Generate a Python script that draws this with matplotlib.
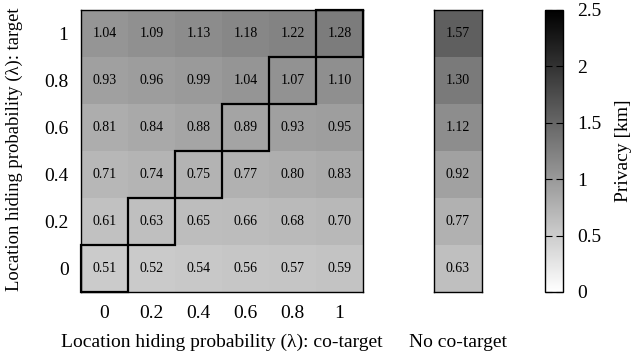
import numpy as np
import matplotlib.pyplot as plt
from matplotlib.patches import Rectangle

plt.rcParams['font.family'] = ['Liberation Serif', 'DejaVu Serif']

# hiding probability of the co-target (columns) and the target (rows)
co_target = ['0', '0.2', '0.4', '0.6', '0.8', '1']
target = ['0', '0.2', '0.4', '0.6', '0.8', '1']

# privacy [km], one row per target probability, bottom row first
privacy = np.array([
    [0.51, 0.52, 0.54, 0.56, 0.57, 0.59],
    [0.61, 0.63, 0.65, 0.66, 0.68, 0.70],
    [0.71, 0.74, 0.75, 0.77, 0.80, 0.83],
    [0.81, 0.84, 0.88, 0.89, 0.93, 0.95],
    [0.93, 0.96, 0.99, 1.04, 1.07, 1.10],
    [1.04, 1.09, 1.13, 1.18, 1.22, 1.28],
])
no_cotarget = [0.63, 0.77, 0.92, 1.12, 1.30, 1.57]

cmap = 'gray_r'
vmin, vmax = 0, 2.5
fs = 14

fig = plt.figure(figsize=(6.34, 3.59), dpi=100)
W, H = 634, 359
ax = fig.add_axes([81 / W, 1 - 292 / H, 282 / W, 282 / H])
ax2 = fig.add_axes([434 / W, 1 - 292 / H, 48 / W, 282 / H])
cax = fig.add_axes([545 / W, 1 - 292 / H, 18 / W, 282 / H])

n = len(co_target)
mesh = ax.pcolormesh(np.arange(n + 1), np.arange(n + 1), privacy,
                     cmap=cmap, vmin=vmin, vmax=vmax)
for i in range(n):
    for j in range(n):
        ax.text(j + 0.5, i + 0.5, f'{privacy[i, j]:.2f}',
                ha='center', va='center', fontsize=10)
    # outline the cells where both probabilities are equal
    ax.add_patch(Rectangle((i, i), 1, 1, fill=False, edgecolor='black',
                           lw=1.6, zorder=3, clip_on=False))
ax.set_xlim(0, n)
ax.set_ylim(0, n)
ax.set_xticks(np.arange(n) + 0.5)
ax.set_xticklabels(co_target)
ax.set_yticks(np.arange(n) + 0.5)
ax.set_yticklabels(target)
ax.tick_params(length=0, labelsize=fs, pad=9)
ax.set_xlabel('Location hiding probability (λ): co-target', fontsize=fs,
              labelpad=9)
fig.text(14 / W, 1 - 149 / H, 'Location hiding probability (λ): target',
         rotation=90, ha='center', va='center', fontsize=13.4)

col = np.array(no_cotarget).reshape(-1, 1)
ax2.pcolormesh(np.arange(2), np.arange(n + 1), col,
               cmap=cmap, vmin=vmin, vmax=vmax)
for i, v in enumerate(no_cotarget):
    ax2.text(0.5, i + 0.5, f'{v:.2f}', ha='center', va='center', fontsize=10)
ax2.set_xlim(0, 1)
ax2.set_ylim(0, n)
ax2.set_xticks([])
ax2.set_yticks([])
ax2.set_xlabel('No co-target', fontsize=fs, labelpad=30)

cb = fig.colorbar(mesh, cax=cax)
cb.set_ticks([0, 0.5, 1, 1.5, 2, 2.5])
cb.set_ticklabels(['0', '0.5', '1', '1.5', '2', '2.5'])
cax.tick_params(direction='in', length=5, width=0.8, labelsize=fs,
                left=True, right=True, pad=10)
cb.set_label('Privacy [km]', fontsize=fs, labelpad=10)
cb.outline.set_linewidth(1)

for a in (ax, ax2):
    for s in a.spines.values():
        s.set_linewidth(1)

fig.savefig('out.png', dpi=100)
